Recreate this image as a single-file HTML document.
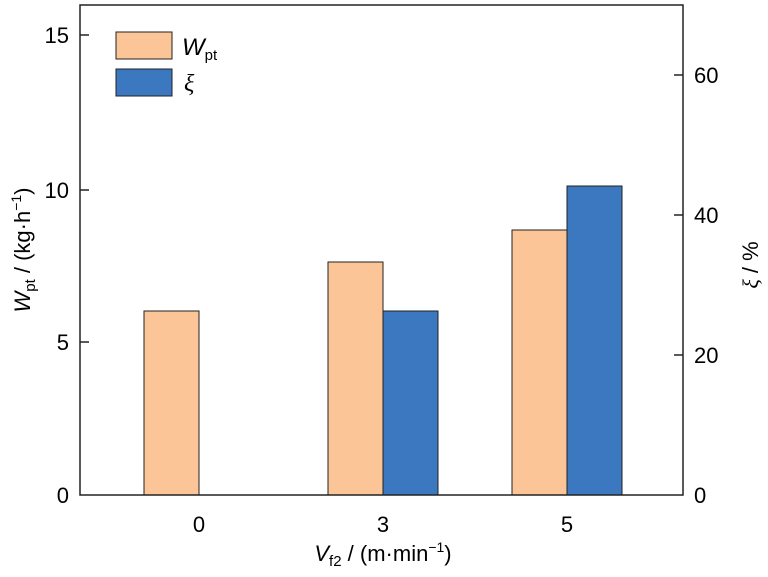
<!DOCTYPE html><html><head><style>body{margin:0;background:#fff}</style></head><body>
<svg width="768" height="572" xmlns="http://www.w3.org/2000/svg" font-family="Liberation Sans, sans-serif" font-size="22" fill="#000">
<rect x="144" y="311" width="55" height="184" fill="#fbc597" stroke="#222" stroke-width="1"/>
<rect x="328" y="262" width="55" height="233" fill="#fbc597" stroke="#222" stroke-width="1"/>
<rect x="383" y="311" width="55" height="184" fill="#3b78c0" stroke="#222" stroke-width="1"/>
<rect x="512" y="230" width="55" height="265" fill="#fbc597" stroke="#222" stroke-width="1"/>
<rect x="567" y="186" width="55" height="309" fill="#3b78c0" stroke="#222" stroke-width="1"/>
<rect x="80" y="5" width="603" height="490" fill="none" stroke="#222" stroke-width="1.5"/>
<g stroke="#222" stroke-width="1.5">
<line x1="80" y1="35" x2="89" y2="35"/><line x1="80" y1="190" x2="89" y2="190"/><line x1="80" y1="342" x2="89" y2="342"/>
<line x1="683" y1="75" x2="674" y2="75"/><line x1="683" y1="215" x2="674" y2="215"/><line x1="683" y1="355" x2="674" y2="355"/>
</g>
<g text-anchor="end"><text x="69" y="43">15</text><text x="69" y="198">10</text><text x="69" y="350">5</text><text x="69" y="503">0</text></g>
<g text-anchor="start"><text x="694" y="83">60</text><text x="694" y="223">40</text><text x="694" y="363">20</text><text x="694" y="503">0</text></g>
<g text-anchor="middle"><text x="199" y="532">0</text><text x="383" y="532">3</text><text x="567" y="532">5</text></g>
<text x="383" y="561" text-anchor="middle"><tspan font-style="italic">V</tspan><tspan font-size="15" dy="5">f2</tspan><tspan dy="-5"> / (m·min</tspan><tspan font-size="14" dy="-9">−1</tspan><tspan dy="9">)</tspan></text>
<text transform="translate(30,250) rotate(-90)" text-anchor="middle"><tspan font-style="italic">W</tspan><tspan font-size="15" dy="5">pt</tspan><tspan dy="-5"> / (kg·h</tspan><tspan font-size="14" dy="-9">−1</tspan><tspan dy="9">)</tspan></text>
<text transform="translate(758,265) rotate(-90)" text-anchor="middle"><tspan font-style="italic" font-family="Liberation Serif, serif">ξ</tspan> / %</text>
<rect x="116" y="32" width="56" height="27" fill="#fbc597" stroke="#222"/>
<rect x="116" y="69" width="56" height="27" fill="#3b78c0" stroke="#222"/>
<text x="182" y="55" font-size="24"><tspan font-style="italic">W</tspan><tspan font-size="15" dy="5">pt</tspan></text>
<text x="184" y="91" font-size="24" font-style="italic" font-family="Liberation Serif, serif">ξ</text>
</svg></body></html>
